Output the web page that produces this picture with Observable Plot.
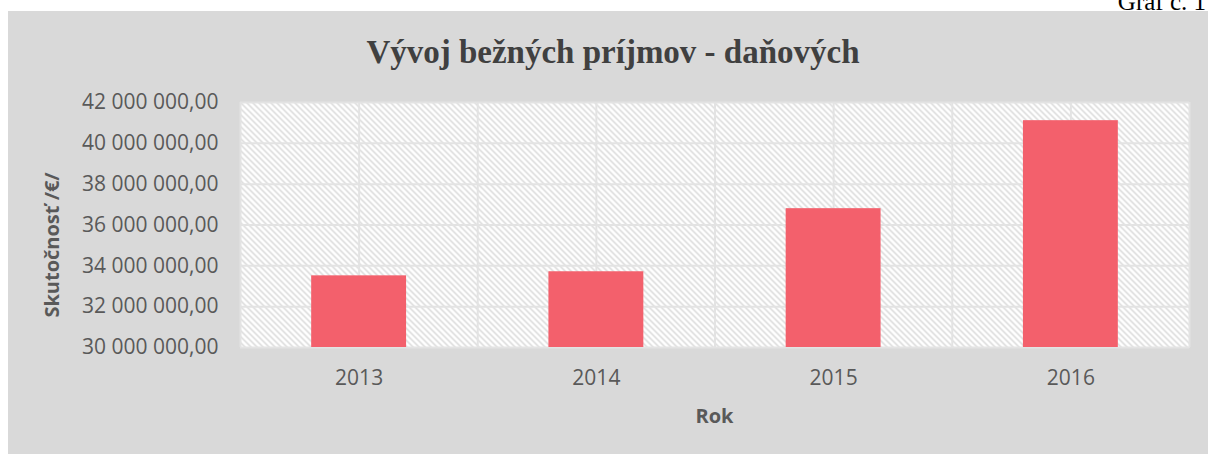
<!DOCTYPE html>
<html><head><meta charset="utf-8">
<script src="https://cdn.jsdelivr.net/npm/d3@7"></script>
<script src="https://cdn.jsdelivr.net/npm/@observablehq/plot@0.6"></script>
<style>
html,body{margin:0;padding:0;background:#fff;}
body{width:1208px;height:454px;overflow:hidden;position:relative;}
#bg{position:absolute;left:0;top:0;}
#chart{position:absolute;left:8px;top:80px;}
</style></head><body>
<div id="bg"></div>
<div id="chart"></div>
<script>
// ---- data ----
const years = ["2013", "2014", "2015", "2016"];
const values = [33510000, 33710000, 36800000, 41110000];
const yTicks = [30000000, 32000000, 34000000, 36000000, 38000000, 40000000, 42000000];
const titleText = "Vývoj bežných príjmov - daňových";
const yLabel = "Skutočnosť /€/";
const xLabel = "Rok";
const captionText = "Graf č. 1";

const table = years.map((year, i) => ({year, i, value: values[i]}));
const fmt = d3.formatLocale({decimal: ",", thousands: " ", grouping: [3]}).format(",.2f");

// ---- background + texts ----
const bg = d3.select("#bg").append("svg").attr("width", 1208).attr("height", 454);
bg.append("rect").attr("x", 8).attr("y", 11).attr("width", 1200).attr("height", 443).attr("fill", "#d9d9d9");
bg.append("text").attr("x", 1206).attr("y", 10).attr("text-anchor", "end")
  .attr("font-family", "Liberation Serif").attr("font-size", 25).attr("fill", "#000").text(captionText);
bg.append("text").attr("x", 613).attr("y", 63).attr("text-anchor", "middle")
  .attr("font-family", "Liberation Serif").attr("font-weight", "bold").attr("font-size", 33)
  .attr("fill", "#404040").text(titleText);
bg.append("text").attr("transform", "translate(59,245) rotate(-90)").attr("text-anchor", "middle")
  .attr("font-family", "Open Sans").attr("font-weight", "bold").attr("font-size", 20)
  .attr("fill", "#595959").text(yLabel);
bg.append("text").attr("x", 714.5).attr("y", 423).attr("text-anchor", "middle")
  .attr("font-family", "Open Sans").attr("font-weight", "bold").attr("font-size", 20)
  .attr("fill", "#595959").text(xLabel);

// ---- chart ----
const gridX = d3.range(0, years.length + 0.25, 0.5);
const chart = Plot.plot({
  width: 1200,
  height: 374,
  marginLeft: 232,
  marginRight: 19,
  marginTop: 22,
  marginBottom: 107,
  style: {background: "transparent", fontFamily: "Open Sans", fontSize: "21px", color: "#595959"},
  x: {domain: [0, years.length], label: null},
  y: {domain: [30000000, 42000000], label: null},
  marks: [
    Plot.frame({fill: "white", stroke: null}),
    Plot.frame({fill: "url(#hatch)", stroke: null}),
    Plot.ruleY(yTicks, {stroke: "#e3e3e3", strokeWidth: 2}),
    Plot.ruleX(gridX, {stroke: "#e3e3e3", strokeWidth: 2}),
    Plot.rectY(table, {x1: d => d.i + 0.3, x2: d => d.i + 0.7, y1: 30000000, y2: "value", fill: "#f3606c"}),
    Plot.axisX({ticks: years.map((_, i) => i + 0.5), tickFormat: v => years[Math.floor(v)], tickSize: 0, tickPadding: 23, label: null}),
    Plot.axisY({ticks: yTicks, tickFormat: fmt, tickSize: 0, tickPadding: 22, label: null})
  ]
});
const defs = d3.select(chart).insert("defs", ":first-child");
const pat = defs.append("pattern").attr("id", "hatch").attr("patternUnits", "userSpaceOnUse")
  .attr("width", 6).attr("height", 6);
pat.append("path").attr("d", "M-1,-1L7,7M-1,5L1,7M5,-1L7,1")
  .attr("stroke", "#d6d6d6").attr("stroke-width", 1.4).attr("fill", "none");
document.getElementById("chart").appendChild(chart);
</script>
</body></html>
